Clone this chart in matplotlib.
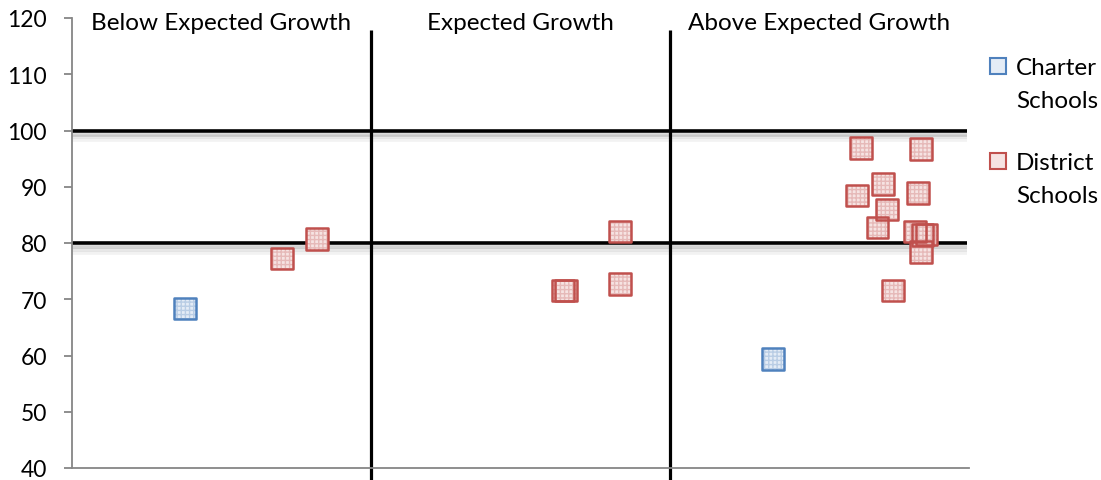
import matplotlib.pyplot as plt
import matplotlib.patheffects as pe
from matplotlib.lines import Line2D

# growth band (0-1 below, 1-2 expected, 2-3 above) vs. proficiency score
charter_x = [0.378, 2.344]
charter_y = [68.4, 59.4]

district_x = [0.702, 0.819, 1.642, 1.652, 1.833, 1.833,
              2.639, 2.839, 2.712, 2.625, 2.829, 2.726, 2.695,
              2.819, 2.845, 2.858, 2.839, 2.746]
district_y = [77.2, 80.7, 71.6, 71.6, 82.1, 72.7,
              96.9, 96.7, 90.5, 88.5, 88.9, 86.0, 82.8,
              82.0, 81.4, 81.5, 78.4, 71.6]

bands = ['Below Expected Growth', 'Expected Growth', 'Above Expected Growth']
band_edges = [1, 2]
cut_scores = [80, 100]
yticks = list(range(40, 121, 10))

series = ['Charter\nSchools', 'District\nSchools']
edge_cols = ['#4F81BD', '#C0504D']
face_cols = ['#E4ECF6', '#F6E3E2']
hatch_cols = ['#B9CDE5', '#E6B9B8']

plt.rcParams['font.family'] = ['Lato', 'DejaVu Sans']

fig = plt.figure(figsize=(11.01, 4.81), dpi=100)
ax = fig.add_axes([72 / 1101, 12 / 481, 897 / 1101, 450 / 481])
ax.set_xlim(0, 3)
ax.set_ylim(40, 120)

for s in ['top', 'right']:
    ax.spines[s].set_visible(False)
for s in ['left', 'bottom']:
    ax.spines[s].set_color('#868686')
    ax.spines[s].set_linewidth(1.3)
ax.set_xticks([])
ax.set_yticks(yticks)
ax.tick_params(axis='y', length=6, width=1.3, color='#868686',
               labelsize=16.5, pad=12)

shadow = [pe.SimpleLineShadow(offset=(0, -3), shadow_color='#808080', alpha=0.35),
          pe.SimpleLineShadow(offset=(0, -5), shadow_color='#a0a0a0', alpha=0.25),
          pe.SimpleLineShadow(offset=(0, -7), shadow_color='#c0c0c0', alpha=0.2),
          pe.Normal()]
for c in cut_scores:
    ax.plot([0, 2.993], [c, c], color='black', lw=2.6, zorder=2,
            path_effects=shadow, solid_capstyle='butt')
for e in band_edges:
    ax.plot([e, e], [37.8, 117.8], color='black', lw=2.3, zorder=2,
            clip_on=False, solid_capstyle='butt')

for i, name in enumerate(bands):
    ax.text(i + 0.5, 119.2, name, ha='center', va='center', fontsize=17.5)


def squares(xs, ys, edge, face, hatch_col):
    ax.scatter(xs, ys, marker='s', s=235, facecolor=face,
               edgecolor=hatch_col, hatch='++++', linewidth=0, zorder=3)
    ax.scatter(xs, ys, marker='s', s=235, facecolor='none',
               edgecolor=edge, linewidth=1.8, zorder=4)


squares(charter_x, charter_y, edge_cols[0], face_cols[0], hatch_cols[0])
squares(district_x, district_y, edge_cols[1], face_cols[1], hatch_cols[1])

# legend: marker beside the first line of each two-line label
for i, label in enumerate(series):
    ytop = 1 - (67 + 95 * i) / 481
    fig.add_artist(Line2D([998 / 1101], [ytop], transform=fig.transFigure,
                          marker='s', ls='none', markersize=12,
                          markerfacecolor=face_cols[i], markeredgecolor=edge_cols[i],
                          markeredgewidth=1.5))
    fig.text(1016 / 1101, ytop + 9 / 481, label, ha='left', va='top',
             fontsize=17.5, linespacing=1.7)

fig.savefig('out.png', dpi=100)
